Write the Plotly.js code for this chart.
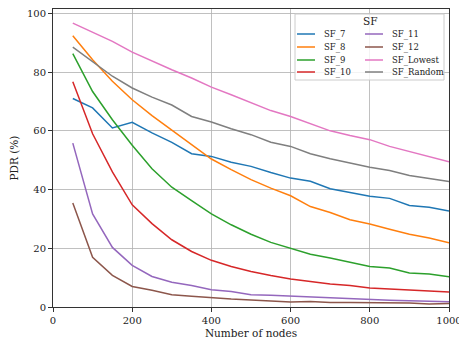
<!DOCTYPE html>
<html>
<head>
<meta charset="utf-8">
<script src="https://cdn.plot.ly/plotly-3.0.1.min.js"></script>
<style>html,body{margin:0;padding:0;background:#fff;}#chart{width:459px;height:344px;}</style>
</head>
<body>
<div id="chart"></div>
<script>
const nodes = [50,100,150,200,250,300,350,400,450,500,550,600,650,700,750,800,850,900,950,1000];
const seriesNames = ["SF_7","SF_8","SF_9","SF_10","SF_11","SF_12","SF_Lowest","SF_Random"];
const sf7 = [71.0,67.8,61.0,62.9,59.3,56.1,52.2,51.3,49.3,47.9,45.8,43.9,42.8,40.3,39.0,37.7,37.0,34.6,34.0,32.7];
const sf8 = [92.4,84.2,76.9,70.6,65.2,60.2,55.1,50.4,46.8,43.4,40.5,37.9,34.2,32.2,29.7,28.3,26.5,24.8,23.5,21.9];
const sf9 = [86.3,73.4,63.8,55.1,47.1,40.8,36.2,31.7,28.0,24.8,22.0,20.1,18.0,16.7,15.3,13.8,13.3,11.6,11.2,10.3];
const sf10 = [76.7,59.0,46.0,34.8,28.4,22.9,18.9,15.9,13.8,12.1,10.7,9.5,8.7,7.8,7.3,6.5,6.1,5.7,5.3,5.1];
const sf11 = [55.8,31.7,20.3,14.2,10.4,8.4,7.3,5.9,5.3,4.2,4.0,3.7,3.3,3.1,2.8,2.5,2.3,2.1,2.0,1.8];
const sf12 = [35.4,16.9,10.8,7.0,5.7,4.2,3.7,3.1,2.7,2.4,2.1,1.7,1.9,1.5,1.5,1.5,1.4,1.4,1.0,1.2];
const sfLowest = [96.7,93.5,90.5,86.8,83.7,80.8,78.0,74.9,72.3,69.5,66.9,64.9,62.4,60.0,58.4,57.0,54.7,53.0,51.3,49.5];
const sfRandom = [88.5,83.7,78.6,74.6,71.5,68.8,64.9,63.0,60.7,58.7,56.1,54.7,52.2,50.5,49.0,47.6,46.5,44.8,43.8,42.7];
const xTicks = [0,200,400,600,800,1000];
const yTicks = [0,20,40,60,80,100];
const legendTitle = "SF";
const xTitle = "Number of nodes";
const yTitle = "PDR (%)";

const colors = ["#1f77b4","#ff7f0e","#2ca02c","#d62728","#9467bd","#8c564b","#e377c2","#7f7f7f"];
const allSeries = [sf7,sf8,sf9,sf10,sf11,sf12,sfLowest,sfRandom];
const FONT = "DejaVu Serif";

const traces = allSeries.map((ys,i)=>({
  x: nodes, y: ys, type:"scatter", mode:"lines", name: seriesNames[i],
  line:{color:colors[i], width:1.5}, showlegend:false, hoverinfo:"skip"
}));

// plot area geometry (pixels) for the hand-built legend
const L=53, R=10, T=9, B=37, W=459, H=344;
const pw = W-L-R, ph = H-T-B;
const px = v => (v-L)/pw;
const py = v => (H-B-v)/ph;

const shapes = [];
const annotations = [];
shapes.push({type:"rect", xref:"paper", yref:"paper", x0:px(295), x1:px(444), y0:py(80), y1:py(14),
  fillcolor:"rgba(255,255,255,0.8)", line:{color:"#cccccc", width:1}, layer:"above"});
annotations.push({xref:"paper", yref:"paper", x:px(369.5), y:py(21.5), text:legendTitle, showarrow:false,
  xanchor:"center", yanchor:"middle", font:{family:FONT, size:10.5, color:"#222"}});
const rowY = [34,47,60,72];
seriesNames.forEach((n,i)=>{
  const col = Math.floor(i/4), row = i%4;
  const lx0 = col===0 ? 297 : 365;
  const tx = col===0 ? 322 : 390;
  shapes.push({type:"line", xref:"paper", yref:"paper", x0:px(lx0), x1:px(lx0+18), y0:py(rowY[row]), y1:py(rowY[row]),
    line:{color:colors[i], width:1.5}, layer:"above"});
  annotations.push({xref:"paper", yref:"paper", x:px(tx), y:py(rowY[row]), text:n, showarrow:false,
    xanchor:"left", yanchor:"middle", font:{family:FONT, size:8.5, color:"#222"}});
});

const layout = {
  width:W, height:H,
  margin:{l:L, r:R, t:T, b:B, pad:0},
  paper_bgcolor:"#ffffff", plot_bgcolor:"rgba(0,0,0,0)",
  font:{family:FONT, size:10, color:"#222"},
  xaxis:{range:[0,1000], tickvals:xTicks, ticktext:xTicks.map(String), showgrid:true, gridcolor:"#b0b0b0", gridwidth:0.8,
    zeroline:false, showline:true, linecolor:"#333", linewidth:1, mirror:true, ticks:"outside", ticklen:4, tickcolor:"#333",
    ticklabeloverflow:"allow",
    tickfont:{family:FONT, size:10, color:"#222"},
    title:{text:xTitle, font:{family:FONT, size:10.5, color:"#222"}, standoff:4}},
  yaxis:{range:[0,101.5], tickvals:yTicks, ticktext:yTicks.map(String), showgrid:true, gridcolor:"#b0b0b0", gridwidth:0.8,
    zeroline:false, showline:true, linecolor:"#333", linewidth:1, mirror:true, ticks:"outside", ticklen:4, tickcolor:"#333",
    tickfont:{family:FONT, size:10, color:"#222"},
    title:{text:yTitle, font:{family:FONT, size:10.5, color:"#222"}, standoff:6}},
  shapes:shapes, annotations:annotations, showlegend:false
};

Plotly.newPlot("chart", traces, layout, {staticPlot:true, displayModeBar:false});
</script>
</body>
</html>
